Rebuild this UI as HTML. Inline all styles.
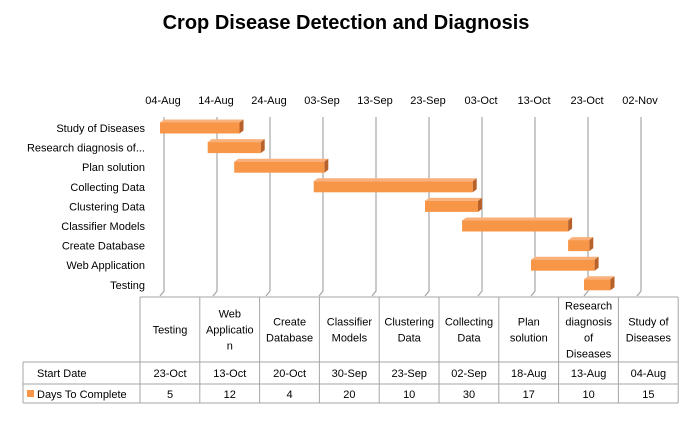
<!DOCTYPE html>
<html><head><meta charset="utf-8"><style>
body{margin:0;background:#fff;width:687px;height:430px;overflow:hidden;font-family:"Liberation Sans",sans-serif}
svg text{font-family:"Liberation Sans",sans-serif}
</style></head><body>
<svg id="c" width="687" height="430">
<text x="346" y="29" text-anchor="middle" font-size="20" font-weight="bold">Crop Disease Detection and Diagnosis</text>
<g id="grid"></g><g id="bars"></g><g id="tbl"></g>
</svg>
<script>
const tasks=["Study of Diseases","Research diagnosis of...","Plan solution","Collecting Data","Clustering Data","Classifier Models","Create Database","Web Application","Testing"];
const startDays=[0,9,14,29,50,57,77,70,80]; // days after 04-Aug
const durations=[15,10,17,30,10,20,4,12,5];
const tickLabels=["04-Aug","14-Aug","24-Aug","03-Sep","13-Sep","23-Sep","03-Oct","13-Oct","23-Oct","02-Nov"];
const tblHeaders=["Testing","Web|Applicatio|n","Create|Database","Classifier|Models","Clustering|Data","Collecting|Data","Plan|solution","Research|diagnosis|of|Diseases","Study of|Diseases"];
const tblStart=["23-Oct","13-Oct","20-Oct","30-Sep","23-Sep","02-Sep","18-Aug","13-Aug","04-Aug"];
const tblDays=["5","12","4","20","10","30","17","10","15"];
const NS="http://www.w3.org/2000/svg";
function mk(t,a,p){const e=document.createElementNS(NS,t);for(const k in a)e.setAttribute(k,a[k]);p.appendChild(e);return e;}
const x0=160,ppd=5.3,plotTop=120,plotBot=296,dep=4;
const X=v=>x0+v*ppd;
const Y=i=>128+i*19.6;
const g=document.getElementById('grid');
tickLabels.forEach((t,i)=>{
 const x=X(i*10);
 const l=mk('path',{d:`M${x} ${plotBot} L${x+dep} ${plotBot-5} L${x+dep} ${plotTop-3}`,stroke:'#a6a6a6',fill:'none','stroke-width':1.2},g);
 
 
 const tx=mk('text',{x:x+3,y:104,'text-anchor':'middle','font-size':11},g);tx.textContent=t;
 
 
});
const b=document.getElementById('bars');
tasks.forEach((t,i)=>{
 const y=Y(i),x1=X(startDays[i]),w=durations[i]*ppd,h=11;
 const lb=mk('text',{x:145,y:y+4,'text-anchor':'end','font-size':11},b);lb.textContent=t;
 
 
 const tp=mk('polygon',{points:`${x1} ${y-h/2} ${x1+dep} ${y-h/2-3} ${x1+w+dep} ${y-h/2-3} ${x1+w} ${y-h/2}`,fill:'#f9b07a'},b);
 
 
 const sd=mk('polygon',{points:`${x1+w} ${y-h/2} ${x1+w+dep} ${y-h/2-3} ${x1+w+dep} ${y+h/2-3} ${x1+w} ${y+h/2}`,fill:'#b8612a'},b);
 
 
 const r=mk('rect',{x:x1,y:y-h/2,width:w,height:h,fill:'#f79646'},b);
 
 
});
const tb=document.getElementById('tbl');
const cx=i=>140+i*59.8, L=23,R=678,t0=297,t1=362,t2=384,t3=403;
const st={stroke:'#a6a6a6','stroke-width':1};
mk('line',Object.assign({x1:140,y1:t0,x2:R,y2:t0},st),tb);
[t1,t2,t3].forEach(y=>mk('line',Object.assign({x1:L,y1:y,x2:R,y2:y},st),tb));
mk('line',Object.assign({x1:L,y1:t1,x2:L,y2:t3},st),tb);
for(let i=0;i<=9;i++)mk('line',Object.assign({x1:cx(i),y1:t0,x2:cx(i),y2:t3},st),tb);
tblHeaders.forEach((h,i)=>{
 const lines=h.split('|');const c=cx(i)+30;const y0=(t0+t1)/2-(lines.length-1)*8+4;
 lines.forEach((ln,j)=>{const t=mk('text',{x:c,y:y0+j*16,'text-anchor':'middle','font-size':11},tb);t.textContent=ln;
 
 });
 const s=mk('text',{x:c,y:377,'text-anchor':'middle','font-size':11},tb);s.textContent=tblStart[i];
 
 
 const dd=mk('text',{x:c,y:398,'text-anchor':'middle','font-size':11},tb);dd.textContent=tblDays[i];
 
 
});
const s1=mk('text',{x:37,y:377,'font-size':11},tb);s1.textContent='Start Date';


const lk=mk('rect',{x:27,y:390,width:7,height:7,fill:'#f79646'},tb);


const s2=mk('text',{x:37,y:398,'font-size':11},tb);s2.textContent='Days To Complete';


</script>
</body></html>
